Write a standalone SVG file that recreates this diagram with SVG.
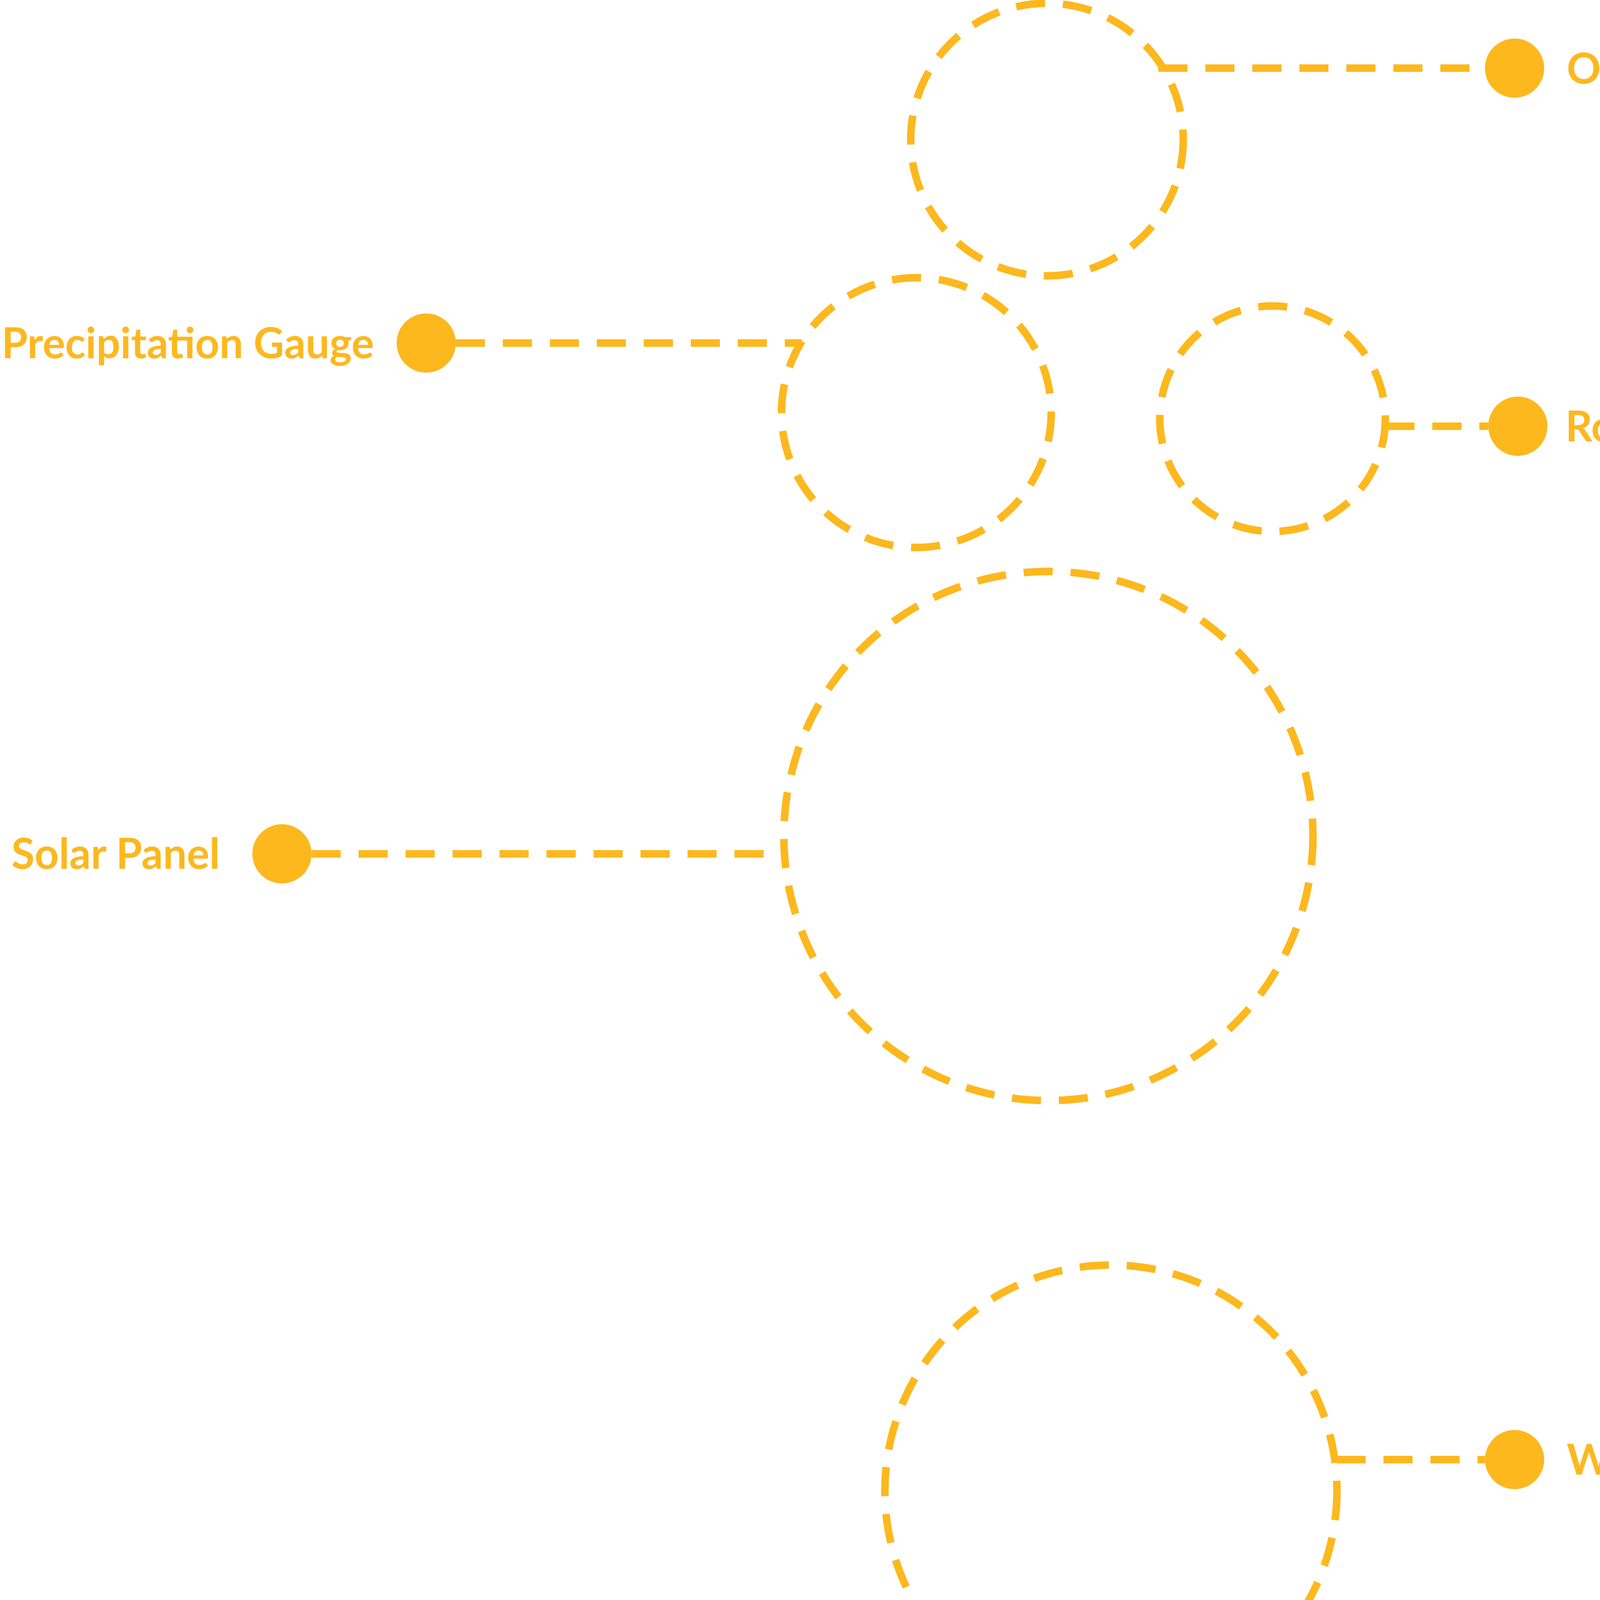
<svg xmlns="http://www.w3.org/2000/svg" width="4928" height="4425" viewBox="0 0 4928 4425">
<style>
.c{fill:none;stroke:#FDB81E;stroke-width:16;stroke-dasharray:62 38}
.l{stroke:#FDB81E;stroke-width:16;stroke-dasharray:62 38}
.d{fill:#FDB81E}
text{font-family:Lato,"Liberation Sans",sans-serif;font-weight:bold;font-size:90px;fill:#FDB81E}
</style>
<rect width="4928" height="4425" fill="#fff"/>
<g transform="scale(1.203)">
<g id="connectors">
<line class="l" x1="2465" y1="145" x2="3160" y2="145"/>
<line class="l" x1="970" y1="730" x2="1706" y2="730"/>
<line class="l" x1="2948" y1="907" x2="3167" y2="907"/>
<line class="l" x1="663" y1="1817" x2="1668" y2="1817"/>
<line class="l" x1="2844" y1="3106" x2="3160" y2="3106"/>
</g>
<g id="camera"><circle class="c" cx="2228" cy="297" r="290"/><circle class="d" cx="3223" cy="145" r="63"/><text x="3334" y="178">Optional Camera</text></g>
<g id="precipitation"><circle class="c" cx="1950" cy="878" r="287"/><circle class="d" cx="907" cy="730" r="63"/><text x="796" y="762" text-anchor="end">Precipitation Gauge</text></g>
<g id="road"><circle class="c" cx="2708" cy="891" r="240"/><circle class="d" cx="3230" cy="907" r="63"/><text x="3331" y="939">Road Surface Sensor</text></g>
<g id="solar"><circle class="c" cx="2231" cy="1779" r="563"/><circle class="d" cx="600" cy="1817" r="63"/><text x="468" y="1849" text-anchor="end">Solar Panel</text></g>
<g id="weatherbrain"><circle class="c" cx="2364" cy="3173" r="481"/><circle class="d" cx="3223" cy="3106" r="63"/><text x="3334" y="3138">WeatherBrain Box</text></g>
</g>
</svg>
